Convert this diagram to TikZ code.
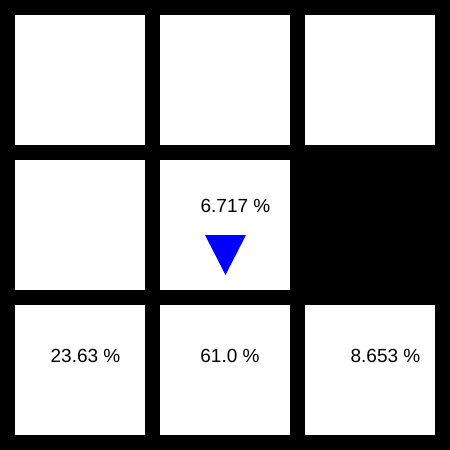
\documentclass[tikz,border=0pt]{standalone}
\usepackage{fontspec}
\setmainfont{Liberation Sans}
\usetikzlibrary{positioning}
\begin{document}
\begin{tikzpicture}[x=1pt,y=-1pt,
  cell/.style={fill=white,minimum size=130pt,inner sep=0pt,anchor=north west},
  pct/.style={font=\fontsize{19}{22}\selectfont,inner sep=0pt,anchor=base}]
\fill[black] (0,0) rectangle (450,450);
\node[cell] (c11) at (15,15) {};
\node[cell] (c12) at (160,15) {};
\node[cell] (c13) at (305,15) {};
\node[cell] (c21) at (15,160) {};
\node[cell] (c22) at (160,160) {};
\node[cell] (c31) at (15,305) {};
\node[cell] (c32) at (160,305) {};
\node[cell] (c33) at (305,305) {};
\node[pct] (p22) at (235.5,212) {6.717 \%};
\node[pct] (p31) at (85.5,362) {23.63 \%};
\node[pct] (p32) at (230,362) {61.0 \%};
\node[pct] (p33) at (385.5,362) {8.653 \%};
\fill[blue] (205,235) -- (246,235) -- (225.5,275) -- cycle;
\end{tikzpicture}
\end{document}
